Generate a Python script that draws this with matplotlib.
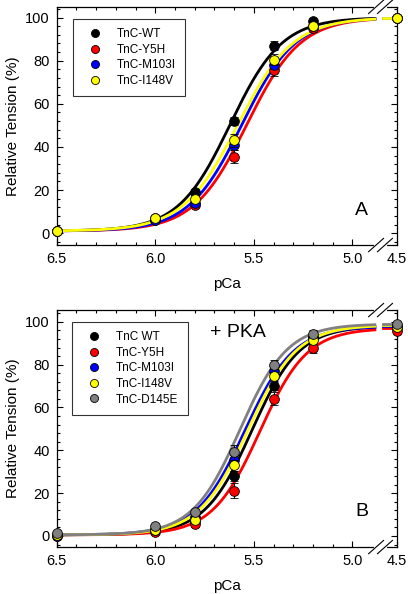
import numpy as np
import matplotlib
matplotlib.use("Agg")
import matplotlib.pyplot as plt
from matplotlib.lines import Line2D
from matplotlib.ticker import FixedLocator

plt.rcParams['font.family'] = ['Liberation Sans', 'DejaVu Sans']

# measured pCa values (4.5 sits past the axis break)
pca = [6.5, 6.0, 5.8, 5.6, 5.4, 5.2, 4.5]

# Panel A
labels_a = ['TnC-WT', 'TnC-Y5H', 'TnC-M103I', 'TnC-I148V']
colors_a = ['black', 'red', 'blue', 'yellow']
wt_a = [1, 7, 19, 52, 87, 98.5, 100]
y5h_a = [1, 6, 13, 35.5, 75.5, 95, 100]
m103i_a = [1, 6, 14, 41, 78, 96, 100]
i148v_a = [1, 7, 16, 43, 80.5, 96, 100]
wt_a_err = [0.5, 1, 1.5, 2, 2, 1, 0]
y5h_a_err = [0.5, 1, 1.5, 3, 2.5, 1.5, 0]
m103i_a_err = [0.5, 1, 1.5, 2.5, 2, 1.5, 0]
i148v_a_err = [0.5, 1, 1.5, 3, 2.5, 1.5, 0]
# Hill fit parameters: pCa50, nH, top, bottom
p50_a = [5.62, 5.535, 5.56, 5.58]
nh_a = [3.3, 3.2, 3.2, 3.1]
top_a = [100, 100, 100, 100]
bot_a = [1, 1, 1, 1]

# Panel B (+ PKA)
labels_b = ['TnC WT', 'TnC-Y5H', 'TnC-M103I', 'TnC-I148V', 'TnC-D145E']
colors_b = ['black', 'red', 'blue', 'yellow', '#808080']
wt_b = [0.5, 3, 7, 28, 70, 92.5, 97]
y5h_b = [0, 2, 5.5, 21, 64, 88, 95.5]
m103i_b = [0, 3, 9, 35.5, 77, 93, 98]
i148v_b = [0.5, 3, 7.5, 33, 74.5, 91.5, 97.5]
d145e_b = [1.5, 4.5, 11, 39, 80, 94.5, 99]
wt_b_err = [0.5, 1, 1.5, 2.5, 2, 2, 1]
y5h_b_err = [0.5, 1, 1.5, 3.5, 3, 2.5, 1]
m103i_b_err = [0.5, 1, 1.5, 2.5, 2, 2, 1]
i148v_b_err = [0.5, 1, 1.5, 2.5, 2, 2, 1]
d145e_b_err = [0.5, 1, 1.5, 3.5, 2, 1.5, 1]
p50_b = [5.51, 5.47, 5.545, 5.53, 5.57]
nh_b = [3.6, 3.6, 3.5, 3.5, 3.6]
top_b = [98, 97, 98, 98.5, 99]
bot_b = [0.5, 0.5, 0.5, 0.5, 0.5]

X45 = 4.774          # where pCa 4.5 is drawn on the broken axis
CURVE_END = 4.886    # curves stop at the break
STUB_START = 4.845   # and resume just after it


def hill(x, p50, nh, top, bot):
    return bot + (top - bot) / (1 + 10 ** (nh * (np.asarray(x) - p50)))


def to_axis(p):
    return [X45 if v < 4.8 else v for v in p]


def draw_break(ax, dy):
    tr = ax.get_xaxis_transform()
    for ypos in (0, 1):
        ax.plot([4.88, 4.835], [ypos, ypos], color='white', lw=3,
                transform=tr, clip_on=False, zorder=6)
        for c in (4.88, 4.835):
            ax.plot([c + 0.038, c - 0.038], [ypos - dy, ypos + dy],
                    color='black', lw=0.8, transform=tr, clip_on=False, zorder=7)


def draw_panel(ax, series, errs, labels, colors, p50, nh, top, bot, ylim, anchor):
    xs = np.linspace(6.5, CURVE_END, 300)
    xstub = np.array([STUB_START, X45])
    for i in range(len(series)):
        ax.plot(xs, hill(xs, p50[i], nh[i], top[i], bot[i]), color=colors[i],
                lw=2, zorder=3)
        yend = hill(4.5, p50[i], nh[i], top[i], bot[i])
        ax.plot(xstub, [yend, yend], color=colors[i], lw=2, zorder=3)
    for i in range(len(series)):
        ax.errorbar(to_axis(pca), series[i], yerr=errs[i], fmt='o',
                    color='black', mfc=colors[i], mec='black', mew=0.6,
                    ms=7, elinewidth=0.8, capsize=3, capthick=0.8,
                    zorder=4 + i, clip_on=False)

    ax.set_xlim(6.5, X45)
    ax.set_ylim(*ylim)
    ax.xaxis.set_major_locator(FixedLocator([6.5, 6.0, 5.5, 5.0, X45]))
    ax.set_xticklabels(['6.5', '6.0', '5.5', '5.0', '4.5'])
    minors = [round(6.5 - 0.1 * k, 1) for k in range(1, 16)]
    ax.xaxis.set_minor_locator(FixedLocator([m for m in minors if m not in (6.0, 5.5)]))
    ax.yaxis.set_major_locator(FixedLocator([0, 20, 40, 60, 80, 100]))
    ax.yaxis.set_minor_locator(FixedLocator([v for v in range(-4, 105, 4) if v % 20]))
    ax.tick_params(which='both', direction='in', top=True, right=True,
                   labelsize=10.5, pad=5)
    ax.tick_params(which='major', length=4, width=0.8)
    ax.tick_params(which='minor', length=2.5, width=0.8)
    for s in ax.spines.values():
        s.set_linewidth(0.9)
    ax.set_xlabel('pCa', fontsize=11, labelpad=8)
    ax.set_ylabel('Relative Tension (%)', fontsize=11, labelpad=4)

    handles = [Line2D([], [], ls='none', marker='o', ms=5.8, mfc=c,
                      mec='black', mew=0.6) for c in colors]
    leg = ax.legend(handles, labels, loc='upper left', bbox_to_anchor=anchor,
                    borderaxespad=0, fontsize=8.5, frameon=True, fancybox=False,
                    handlelength=2.1, handletextpad=0.85, labelspacing=0.3,
                    borderpad=0.8)
    leg.get_frame().set_edgecolor('black')
    leg.get_frame().set_linewidth(0.8)
    leg.set_zorder(10)


fig = plt.figure(figsize=(4.08, 5.94), dpi=100)
ax_a = fig.add_axes([0.139, 0.5875, 0.834, 0.401])
ax_b = fig.add_axes([0.139, 0.079, 0.834, 0.399])

draw_panel(ax_a, [wt_a, y5h_a, m103i_a, i148v_a],
           [wt_a_err, y5h_a_err, m103i_a_err, i148v_a_err],
           labels_a, colors_a, p50_a, nh_a, top_a, bot_a, (-5.5, 105),
           (0.047, 0.95))
draw_panel(ax_b, [wt_b, y5h_b, m103i_b, i148v_b, d145e_b],
           [wt_b_err, y5h_b_err, m103i_b_err, i148v_b_err, d145e_b_err],
           labels_b, colors_b, p50_b, nh_b, top_b, bot_b, (-5.2, 105.5),
           (0.044, 0.95))
draw_break(ax_a, 0.028)
draw_break(ax_b, 0.028)

ax_a.text(0.897, 0.147, 'A', transform=ax_a.transAxes, fontsize=14,
          ha='center', va='center')
ax_b.text(0.897, 0.15, 'B', transform=ax_b.transAxes, fontsize=14,
          ha='center', va='center')
ax_b.text(0.532, 0.905, '+ PKA', transform=ax_b.transAxes, fontsize=14,
          ha='center', va='center')

fig.savefig('out.png', dpi=100)
